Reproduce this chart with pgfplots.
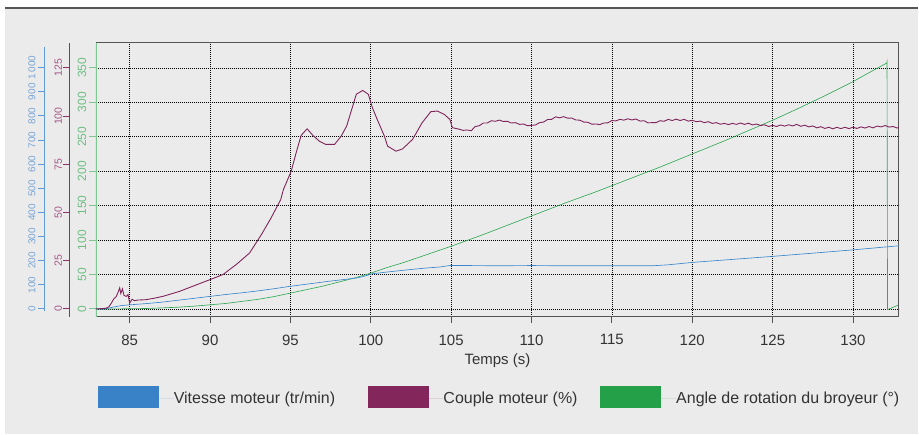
\documentclass[border=0pt]{standalone}
\usepackage{fontspec}
\setmainfont{Liberation Sans}
\usepackage{pgfplots}
\pgfplotsset{compat=1.18}
\definecolor{bg}{RGB}{235,235,235}
\definecolor{framec}{RGB}{85,85,85}
\definecolor{txt}{RGB}{51,51,51}
\definecolor{cblue}{RGB}{58,134,204}
\definecolor{cpurple}{RGB}{128,36,92}
\definecolor{cgreen}{RGB}{50,170,85}
\definecolor{lblue}{RGB}{58,130,200}
\definecolor{lpurple}{RGB}{130,38,92}
\definecolor{lgreen}{RGB}{35,160,72}
\definecolor{ablue}{RGB}{95,155,215}
\definecolor{apurple}{RGB}{145,45,105}
\definecolor{agreen}{RGB}{125,200,145}
\definecolor{tblue}{RGB}{120,165,215}
\definecolor{tpurple}{RGB}{165,85,135}
\definecolor{tgreen}{RGB}{110,190,130}
\pgfplotsset{
  common/.style={anchor=south west, scale only axis, width=804pt, height=274pt,
    xmin=82.9, xmax=132.86},
}
\begin{document}
\begin{tikzpicture}[x=1pt,y=1pt]
\fill[white] (0,0) rectangle (919,435);
\fill[bg] (5,0) rectangle (919,427);
\draw[framec, line width=2.2pt] (5,427.2) -- (919,427.2);

% main axis: angle (green) with grid
\begin{axis}[common, at={(96pt,118pt)},
  ymin=-11.15, ymax=386.2,
  xtick={85,90,...,130}, ytick={0,50,...,350},
  tick pos=left, tick align=outside, major tick length=6.5pt,
  axis line style={draw=none},
  xtick style={framec, line width=0.9pt},
  ytick style={agreen, line width=0.9pt},
  grid=major, grid style={black, line width=0.55pt, dash pattern=on 0.7pt off 1.3pt},
  /pgf/number format/assume math mode=true,
  xticklabel style={font=\fontsize{15}{15}\selectfont, text=txt, anchor=north, yshift=-8pt},
  yticklabel style={xshift=0.5pt, font=\fontsize{12}{12}\selectfont, rotate=90, anchor=south, text=tgreen},
  xlabel={Temps (s)},
  xlabel style={at={(axis description cs:0.5,0)}, anchor=center, yshift=-44pt,
    font=\fontsize{15}{15}\selectfont, text=txt},
  legend columns=3,
  legend style={at={(axis description cs:0.0025,-0.292)}, anchor=west,
    draw=none, fill=none, inner sep=0pt, outer sep=0pt,
    nodes={inner sep=0pt}, font=\fontsize{16}{16}\selectfont, text=txt,
    /tikz/every even column/.style={column sep=0pt},
    /tikz/every odd column/.style={column sep=0pt}},
  legend cell align=left,
  legend image code/.code={\fill[#1] (0pt,-9.3pt) rectangle (61pt,12.7pt); \path (0pt,0pt) -- (76pt,0pt);},
]
\addlegendimage{fill=lblue, draw=none}
\addlegendentry{\makebox[194pt][l]{Vitesse moteur (tr/min)}}
\addlegendimage{fill=lpurple, draw=none}
\addlegendentry{\makebox[157pt][l]{Couple moteur (\%)}}
\addlegendimage{fill=lgreen, draw=none}
\addlegendentry{Angle de rotation du broyeur (°)}
\addplot[cgreen, line width=0.65pt, forget plot] coordinates {
(82.9,0) (84,0) (85,0.3) (86,0.6) (87,1.5) (88,2.5) (89,4) (90,6) (91,8) (92,11)
(93,14) (94,18) (95,23) (96,28) (97,33) (98,39) (99,45) (100,52) (101,60) (102,67)
(103,75) (104,83) (105,91) (106,99.5) (107,108) (108,117) (109,126) (110,135)
(112,153) (114,170) (115.45,183) (118,206) (120,225) (122,244) (124,264) (125,274)
(126.5,290) (128.3,310) (130,330) (131,343) (132.1,357) (132.12,359) (132.15,-1) (132.86,6)
};
\draw[framec, line width=1.1pt] (rel axis cs:0,0) -- (rel axis cs:1,0) -- (rel axis cs:1,1) -- (rel axis cs:0,1);
\draw[agreen, line width=1.4pt] (rel axis cs:0,0) -- (rel axis cs:0,1);
\end{axis}

% blue data (speed)
\begin{axis}[common, at={(96pt,118pt)}, hide axis, ymin=-31.86, ymax=1103.4]
\addplot[cblue, line width=0.65pt] coordinates {
(82.9,0) (83.5,0) (84,8) (84.5,14) (85,17) (86,22) (87,28) (88,36) (89,44) (90,52)
(91,60) (92,67) (93,75) (94,84) (95,94) (96.4,106) (97.3,114) (98.2,121) (99.1,128)
(99.5,134) (100.1,146) (101,153) (102.4,163) (103.5,170) (104.3,174) (104.9,180)
(106,180) (108,179) (110,180) (112,179) (114,179) (116,179) (117.5,179) (118.5,183)
(120,193) (122,203) (125,218) (128,234) (130,245) (132.86,262)
};
\end{axis}

% purple data (torque)
\begin{axis}[common, at={(96pt,118pt)}, hide axis, ymin=-3.982, ymax=137.93]
\addplot[cpurple, line width=0.9pt] coordinates {
(82.9,0) (83.5,0.3) (83.7,1) (83.86,3) (84.0,5) (84.17,6.5) (84.3,9) (84.38,10.9)
(84.45,8) (84.55,10.4) (84.65,7) (84.8,6.5) (84.9,7.5) (85,3) (85.15,5) (85.3,4.3)
(85.5,4.6) (86,4.8) (86.5,5.5) (87.06,6.5) (88.1,9.1) (89,12) (90,15.2) (90.8,17.8)
(91.63,23) (92.46,29) (93.2,38.6) (93.8,47.2) (94.4,56.7) (94.57,62) (95.05,71.4)
(95.36,81) (95.67,90) (96.04,93.4) (96.4,90) (96.8,87) (97.2,85.3) (97.75,85.3)
(98.16,89.6) (98.5,94.8) (98.8,103) (99.1,111.3) (99.5,113.3) (99.85,111.3)
(100.1,104.4) (100.4,98.3) (100.85,89.6) (101.05,84.4) (101.57,81.8) (101.98,83)
(102.6,87.9) (103.2,96.6) (103.74,102.3) (104.15,102.6) (104.57,100.9) (104.92,98.3)
(105.08,94) (105.5,93.2) (105.75,92.6) (106,92.8) (106.25,92.4) (106.5,94.6)
(106.75,95.0) (107,96.4) (107.25,96.4) (107.5,97.6) (107.75,97.3) (108,97.9)
(108.25,97.2) (108.5,97.3) (108.75,96.4) (109,96.6) (109.25,95.7) (109.5,95.9)
(109.75,95.0) (110,95.2) (110.25,95.4) (110.5,96.6) (110.75,96.9) (111,98.2)
(111.25,98.3) (111.5,99.6) (111.75,99.1) (112,99.7) (112.25,98.9) (112.5,99.0)
(112.75,98.0) (113,97.9) (113.25,96.9) (113.5,96.8) (113.75,95.8) (114,95.9)
(114.25,95.6) (114.5,96.4) (114.75,96.5) (115,97.7) (115.25,97.5) (115.5,98.3)
(115.75,97.9) (116,98.6) (116.25,98.0) (116.5,98.5) (116.75,97.4) (117,97.6)
(117.25,96.5) (117.5,96.6) (117.75,96.6) (118,97.6) (118.25,97.3) (118.5,98.3)
(118.75,97.7) (119,98.4) (119.25,97.7) (119.5,98.3) (119.75,97.4) (120,97.8)
(120.25,97.1) (120.5,97.4) (120.75,96.6) (121,97.1) (121.25,96.2) (121.5,96.6)
(121.75,95.8) (122,96.2) (122.25,95.6) (122.5,96.2) (122.75,95.7) (123,96.4)
(123.25,95.7) (123.5,96.3) (123.75,95.4) (124,95.9) (124.25,95.1) (124.5,95.5)
(124.75,94.6) (125,95.2) (125.25,94.6) (125.5,95.4) (125.75,94.8) (126,95.5)
(126.25,94.9) (126.5,95.7) (126.75,94.7) (127,95.3) (127.25,94.4) (127.5,94.9)
(127.75,93.9) (128,94.5) (128.25,93.6) (128.5,94.2) (128.75,93.4) (129,94.2)
(129.25,93.5) (129.5,94.2) (129.75,93.5) (130,94.2) (130.25,93.6) (130.5,94.4)
(130.75,93.8) (131,94.6) (131.25,93.9) (131.5,94.8) (131.75,94.4) (132,95.1)
(132.25,94.3) (132.5,94.6) (132.75,93.8) (132.86,94.0)
};
\end{axis}

% purple tick axis
\begin{axis}[anchor=south west, at={(70pt,118pt)}, scale only axis, width=1pt, height=274pt,
  xmin=0, xmax=1, ymin=-3.982, ymax=137.93,
  axis x line=none, axis y line*=left,
  y axis line style={apurple, line width=1.1pt},
  ytick={0,25,...,125}, ytick style={apurple, line width=0.9pt},
  tick align=outside, major tick length=6.5pt,
  /pgf/number format/assume math mode=true,
  yticklabel style={xshift=2pt, font=\fontsize{10.5}{10.5}\selectfont, rotate=90, anchor=south, text=tpurple}]
\end{axis}

% blue tick axis
\begin{axis}[anchor=south west, at={(45pt,123.3pt)}, scale only axis, width=1pt, height=265pt,
  xmin=0, xmax=1, ymin=-10, ymax=1087,
  axis x line=none, axis y line*=left,
  y axis line style={ablue, line width=1.1pt},
  ytick={0,100,...,1000}, ytick style={ablue, line width=0.9pt},
  yticklabels={0,100,200,300,400,500,600,700,800,900,1\,000},
  tick align=outside, major tick length=6.5pt,
  /pgf/number format/assume math mode=true,
  yticklabel style={xshift=0.5pt, font=\fontsize{10}{10}\selectfont, rotate=90, anchor=south, text=tblue}]
\end{axis}
\end{tikzpicture}
\end{document}
